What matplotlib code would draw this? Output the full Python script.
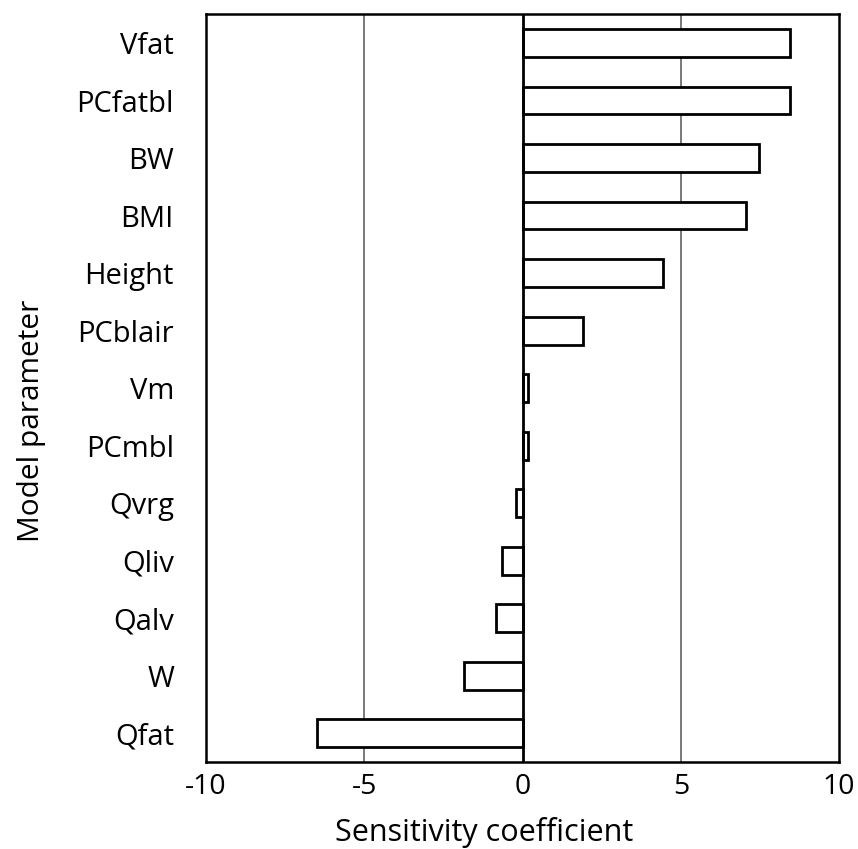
import matplotlib.pyplot as plt

plt.rcParams['font.family'] = ['Open Sans', 'DejaVu Sans']

params = ['Vfat', 'PCfatbl', 'BW', 'BMI', 'Height', 'PCblair', 'Vm',
          'PCmbl', 'Qvrg', 'Qliv', 'Qalv', 'W', 'Qfat']
coeffs = [8.45, 8.45, 7.47, 7.06, 4.45, 1.9, 0.18,
          0.18, -0.2, -0.65, -0.85, -1.85, -6.5]
xticks = [-10, -5, 0, 5, 10]

fig = plt.figure(figsize=(8.58, 8.49), dpi=100)
ax = fig.add_axes([0.240, 0.1025, 0.738, 0.8805])

ypos = list(range(len(params)))[::-1]
ax.barh(ypos, coeffs, height=0.48, color='white', edgecolor='black',
        linewidth=2, zorder=3)

ax.set_xlim(-10, 10)
ax.set_ylim(-0.5, len(params) - 0.5)
ax.set_xticks(xticks)
ax.set_xticklabels([str(t) for t in xticks])
ax.set_yticks(ypos)
ax.set_yticklabels(params)

for t in [-5, 5]:
    ax.axvline(t, color='#555555', linewidth=1.1, zorder=1)
ax.axvline(0, color='black', linewidth=2, zorder=4)

for s in ax.spines.values():
    s.set_linewidth(1.8)
    s.set_color('black')

ax.tick_params(axis='both', length=0)
ax.tick_params(axis='x', pad=8, labelsize=20.5)
ax.tick_params(axis='y', pad=23, labelsize=21)

ax.set_xlabel('Sensitivity coefficient', fontsize=22, va='baseline')
ax.xaxis.set_label_coords(0.439, -0.1056)
ax.set_ylabel('Model parameter', fontsize=21.5, va='center')
ax.yaxis.set_label_coords(-0.276, 0.457)

fig.savefig('out.png', dpi=100)
